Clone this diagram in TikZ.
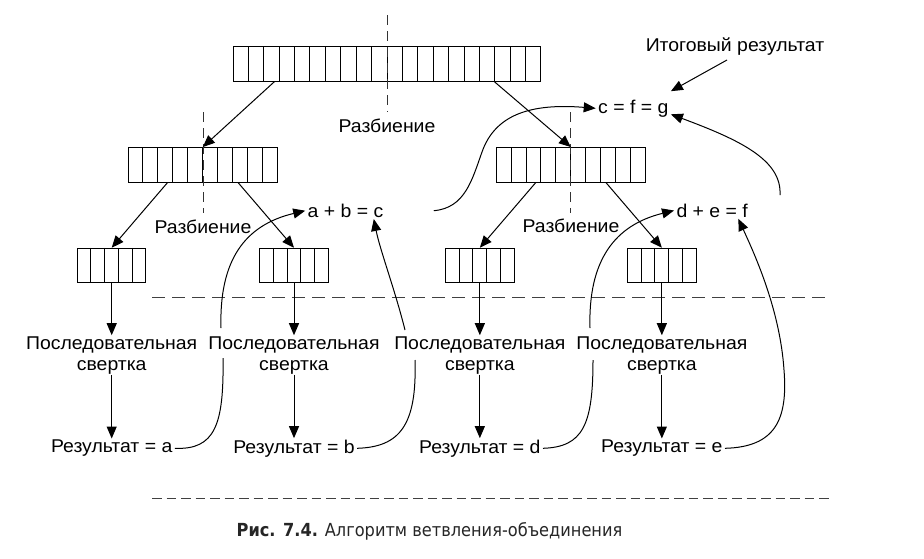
\documentclass[tikz,border=0pt]{standalone}
\usepackage{fontspec}
\setmainfont{Liberation Sans}[FakeStretch=1.05]
\newfontfamily\capfont[FakeStretch=0.9]{DejaVu Sans}
\usetikzlibrary{arrows.meta,calc}
\begin{document}
\begin{tikzpicture}[x=1pt,y=-1pt,
  line width=1pt,
  lbl/.style={font=\fontsize{18.5}{21}\selectfont, inner sep=2pt},
  twoline/.style={lbl, align=center},
  arr/.style={-{Triangle[length=12pt,width=10pt]}},
  cellbox/.style={draw, inner sep=0pt, minimum height=34.5pt},
  splitline/.style={dash pattern=on 10pt off 6pt, draw=black!80},
  sepline/.style={dash pattern=on 13pt off 7pt, draw=black!75},
  sepline2/.style={dash pattern=on 9.5pt off 5pt, draw=black!75},
]
\useasboundingbox (0,0) rectangle (924,558);

% arrays
\node[cellbox, minimum width=307.4pt] (top) at (387,63.9) {};
\node[cellbox, minimum width=149pt] (ml) at (202.8,164.8) {};
\node[cellbox, minimum width=148.3pt] (mr) at (570.85,164.8) {};
\node[cellbox, minimum width=68.5pt] (s1) at (111.7,265.5) {};
\node[cellbox, minimum width=68.5pt] (s2) at (294,265.5) {};
\node[cellbox, minimum width=68.5pt] (s3) at (479.85,265.5) {};
\node[cellbox, minimum width=68.5pt] (s4) at (661.85,265.5) {};
\foreach \i in {1,...,19}
  \draw ($(top.north west)!\i/20!(top.north east)$) -- ($(top.south west)!\i/20!(top.south east)$);
\foreach \n in {ml,mr}
  \foreach \i in {1,...,9}
    \draw ($(\n.north west)!\i/10!(\n.north east)$) -- ($(\n.south west)!\i/10!(\n.south east)$);
\foreach \n in {s1,s2,s3,s4}
  \foreach \i in {1,...,4}
    \draw ($(\n.north west)!\i/5!(\n.north east)$) -- ($(\n.south west)!\i/5!(\n.south east)$);

% split lines
\draw[splitline] (387,15) -- (387,112);
\draw[splitline] (203,112) -- (203,213);
\draw[splitline] (570.8,112) -- (570.8,213);
\node[lbl] (r0) at (387,126) {Разбиение};
\node[lbl] (r1) at (203,226.5) {Разбиение};
\node[lbl] (r2) at (571,226) {Разбиение};

% separators
\draw[sepline] (152,297.7) -- (830,297.7);
\draw[sepline2] (152,498.5) -- (830,498.5);

% split arrows
\draw[arr] ($(top.south west)!0.135!(top.south east)$) -- (ml.north);
\draw[arr] ($(top.south west)!0.848!(top.south east)$) -- (mr.north);
\draw[arr] ($(ml.south west)!0.265!(ml.south east)$) -- (s1.north);
\draw[arr] ($(ml.south west)!0.735!(ml.south east)$) -- (s2.north);
\draw[arr] ($(mr.south west)!0.265!(mr.south east)$) -- (s3.north);
\draw[arr] ($(mr.south west)!0.735!(mr.south east)$) -- (s4.north);

% sequential
\foreach \n/\x/\r in {1/111.7/a, 2/294/b, 3/479.85/d, 4/661.85/e} {
  \node[twoline] (p\n) at (\x,355.5) {Последовательная\\свертка};
  \node[lbl] (res\n) at (\x,448.3) {Результат = \r};
  \draw[arr] (s\n.south) -- ([yshift=-1pt]p\n.north);
  \draw[arr] ([yshift=2pt]p\n.south) -- ([yshift=-1pt]res\n.north);
}

% sums
\node[lbl] (sum1) at (345.5,210.7) {a + b = c};
\node[lbl] (sum2) at (712.2,210.5) {d + e = f};
\node[lbl] (fin) at (633.3,108.3) {c = f = g};
\node[lbl] (tot) at (735,46.7) {Итоговый результат};

% merge curves
\draw (res1.east) .. controls (215,450) and (224,425) .. (223,358);
\draw[arr] (221,328) .. controls (219,260) and (245,225) .. (sum1.west);
\draw (res2.east) .. controls (400,447) and (417,425) .. (415,360);
\draw[arr] (405,330) .. controls (395,290) and (380,250) .. ([xshift=-12pt,yshift=1pt]sum1.south east);
\draw (res3.east) .. controls (583,447) and (593,425) .. (593,360);
\draw[arr] (590,328) .. controls (588,260) and (615,225) .. (sum2.west);
\draw[arr] (res4.east) .. controls (775,447) and (788,420) .. (784,370) .. controls (780,310) and (755,255) .. ([xshift=-12pt,yshift=1pt]sum2.south east);
\draw[arr] (sum1.east) ++(48,0) .. controls (465,208) and (472,180) .. (482,152) .. controls (495,115) and (530,103) .. (fin.west);
\coordinate (c6) at (780,195);
\draw[arr] (c6) .. controls (782,160) and (740,140) .. ([yshift=-6pt]fin.east);
\draw[arr] ([xshift=-8pt,yshift=-2pt]tot.south) -- ([yshift=6pt]fin.north east);

% caption
\node[font=\capfont\fontsize{18}{21}\selectfont, text=black!85] (cap) at (429.5,531) {\textbf{Рис. 7.4.} Алгоритм ветвления-объединения};
\end{tikzpicture}
\end{document}
